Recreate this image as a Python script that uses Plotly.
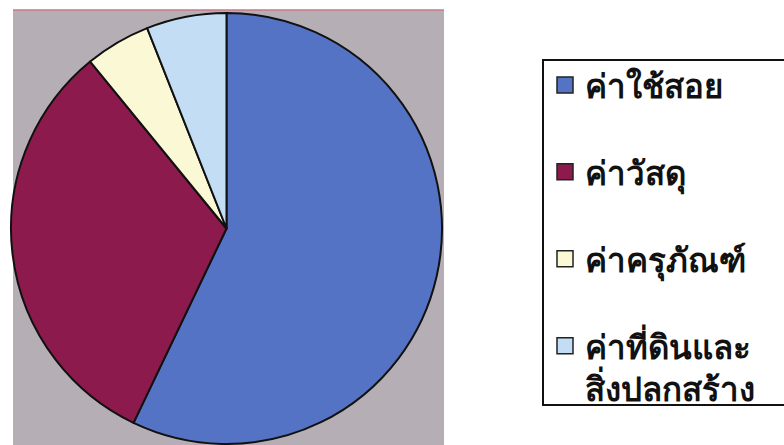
import plotly.graph_objects as go

labels = ["ค่าใช้สอย", "ค่าวัสดุ", "ค่าครุภัณฑ์", "ค่าที่ดินและ<br>สิ่งปลกสร้าง"]
values = [57.1, 32.0, 4.9, 6.0]
colors = ["#5573c4", "#8c1a4c", "#fbf8d6", "#c3ddf5"]

fig = go.Figure()

fig.add_trace(go.Pie(
    labels=labels,
    values=values,
    sort=False,
    direction="clockwise",
    rotation=0,
    marker=dict(colors=colors, line=dict(color="#111111", width=2)),
    textinfo="none",
    hoverinfo="label+percent",
    showlegend=False,
    domain=dict(x=[11 / 784, 442 / 784], y=[0, 1 - 12 / 445]),
))

# legend entries (one group each, so they can be spaced apart)
for lab, col in zip(labels, colors):
    fig.add_trace(go.Scatter(
        x=[None], y=[None], mode="markers", name=lab,
        legendgroup=lab,
        marker=dict(symbol="square", size=16, color=col,
                    line=dict(color="#222222", width=1.5)),
        xaxis="x", yaxis="y",
    ))

fig.update_layout(
    width=784, height=445,
    margin=dict(l=0, r=0, t=0, b=0),
    paper_bgcolor="white",
    plot_bgcolor="white",
    xaxis=dict(visible=False, domain=[0.99, 1]),
    yaxis=dict(visible=False, domain=[0.99, 1]),
    shapes=[
        dict(type="rect", xref="paper", yref="paper",
             x0=13 / 784, x1=444 / 784, y0=0, y1=1 - 10 / 445,
             fillcolor="#b5afb5", line=dict(width=0), layer="below"),
        dict(type="line", xref="paper", yref="paper",
             x0=13 / 784, x1=444 / 784, y0=1 - 10 / 445, y1=1 - 10 / 445,
             line=dict(color="#c77a88", width=1.5), layer="below"),
        dict(type="rect", xref="paper", yref="paper",
             x0=543 / 784, x1=800 / 784, y0=1 - 405 / 445, y1=1 - 60 / 445,
             fillcolor="white", line=dict(color="#111111", width=2), layer="above"),
    ],
    legend=dict(
        x=545 / 784, y=1 - 57 / 445, xanchor="left", yanchor="top",
        bgcolor="rgba(0,0,0,0)", borderwidth=0,
        font=dict(family="Noto Sans, Liberation Sans, sans-serif", size=33,
                  color="#111111", weight="bold"),
        tracegroupgap=41,
        itemsizing="trace",
        traceorder="grouped",
        valign="top",
    ),
)

fig.write_html("out.html", config={"displayModeBar": False},
               post_script="document.body.style.margin='0';")
